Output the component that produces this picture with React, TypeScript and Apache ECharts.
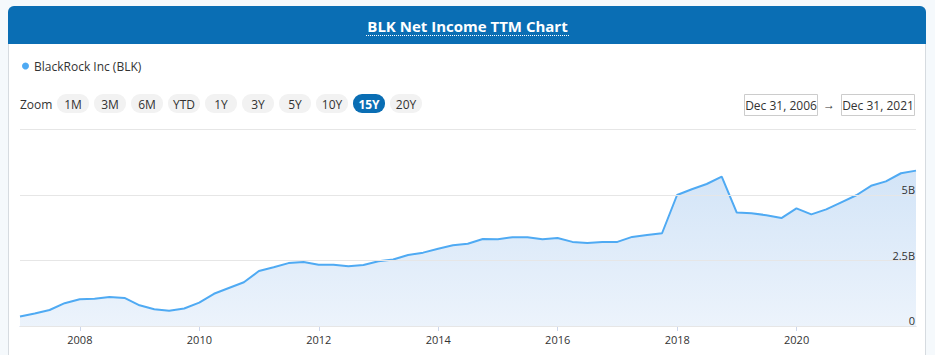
import React, { useEffect, useRef } from "react";
import * as echarts from "echarts";

// Quarter-end TTM net income of BlackRock, in billions USD, Dec 2006 .. Dec 2021
const startYear = 2006;
const netIncomeB: number[] = [
  0.36, 0.48, 0.61, 0.87, 1.02, 1.04, 1.11, 1.07, 0.79, 0.64, 0.58, 0.67,
  0.89, 1.23, 1.45, 1.67, 2.10, 2.24, 2.40, 2.44, 2.34, 2.34, 2.28, 2.33,
  2.47, 2.54, 2.71, 2.80, 2.95, 3.08, 3.14, 3.32, 3.31, 3.39, 3.39, 3.31,
  3.36, 3.21, 3.17, 3.21, 3.21, 3.40, 3.47, 3.54, 5.00, 5.22, 5.42, 5.70,
  4.33, 4.30, 4.23, 4.12, 4.49, 4.26, 4.45, 4.72, 4.99, 5.35, 5.52, 5.83,
  5.93,
];
const tickYears: number[] = [2008, 2010, 2012, 2014, 2016, 2018, 2020];
const zoomButtons: string[] = ["1M", "3M", "6M", "YTD", "1Y", "3Y", "5Y", "10Y", "15Y", "20Y"];
const selectedZoom = "15Y";
const fromLabel = "Dec 31, 2006";
const toLabel = "Dec 31, 2021";
const seriesName = "BlackRock Inc (BLK)";
const chartTitle = "BLK Net Income TTM Chart";

const quarterEnds: [number, number][] = [[2, 31], [5, 30], [8, 30], [11, 31]];
function quarterTime(i: number): number {
  // i = 0 -> Dec 31 of startYear
  const q = (i + 3) % 4;
  const y = startYear + Math.floor((i + 3) / 4);
  return Date.UTC(y, quarterEnds[q][0], quarterEnds[q][1]);
}

const FONT = "'Open Sans', 'Noto Sans', sans-serif";
const BLUE = "#0a6eb4";
const LINE = "#4faaf3";

export default function App() {
  const ref = useRef<HTMLDivElement>(null);
  useEffect(() => {
    if (!ref.current) return;
    const chart = echarts.init(ref.current, undefined, { renderer: "svg" });
    const data = netIncomeB.map((v, i) => [quarterTime(i), v]);
    const ticks = tickYears.map((y) => Date.UTC(y, 0, 1));

    const graphics: any[] = [
      {
        type: "rect",
        shape: { x: 8.5, y: 6.5, width: 917, height: 360, r: [6, 6, 0, 0] },
        style: { fill: "#ffffff", stroke: "#d6dbe0", lineWidth: 1 },
        z: -10,
      },
      {
        type: "rect",
        shape: { x: 8, y: 6, width: 918, height: 38, r: [6, 6, 0, 0] },
        style: { fill: BLUE },
        z: -9,
      },
      {
        type: "line",
        shape: { x1: 366, y1: 35.5, x2: 570, y2: 35.5 },
        style: { stroke: "#ffffff", lineWidth: 1, lineDash: [1, 1] },
      },
      {
        type: "text",
        x: 20,
        y: 104,
        style: { text: "Zoom", fill: "#333333", font: `12px ${FONT}`, textVerticalAlign: "middle" },
      },
      {
        type: "rect",
        shape: { x: 744.5, y: 94.5, width: 73, height: 21 },
        style: { fill: "#ffffff", stroke: "#cccccc", lineWidth: 1 },
      },
      {
        type: "text",
        x: 781,
        y: 105,
        style: { text: fromLabel, fill: "#333333", font: `12px ${FONT}`, textAlign: "center", textVerticalAlign: "middle" },
      },
      {
        type: "text",
        x: 829,
        y: 104,
        style: { text: "→", fill: "#333333", font: `bold 12px ${FONT}`, textAlign: "center", textVerticalAlign: "middle" },
      },
      {
        type: "rect",
        shape: { x: 841.5, y: 94.5, width: 73, height: 21 },
        style: { fill: "#ffffff", stroke: "#cccccc", lineWidth: 1 },
      },
      {
        type: "text",
        x: 878,
        y: 105,
        style: { text: toLabel, fill: "#333333", font: `12px ${FONT}`, textAlign: "center", textVerticalAlign: "middle" },
      },
    ];
    zoomButtons.forEach((b, i) => {
      const sel = b === selectedZoom;
      const x = 57 + 37 * i;
      graphics.push({
        type: "rect",
        shape: { x, y: 94, width: 32, height: 19, r: 9 },
        style: { fill: sel ? BLUE : "#f2f2f2" },
      });
      graphics.push({
        type: "text",
        x: x + 16,
        y: 104,
        style: {
          text: b,
          fill: sel ? "#ffffff" : "#333333",
          font: `${sel ? "bold " : ""}12px ${FONT}`,
          textAlign: "center",
          textVerticalAlign: "middle",
        },
      });
    });

    chart.setOption({
      animation: false,
      backgroundColor: "#f5f9fc",
      textStyle: { fontFamily: FONT },
      title: {
        text: chartTitle,
        left: "center",
        top: 13,
        textStyle: { color: "#ffffff", fontSize: 15, fontWeight: "bold", fontFamily: FONT },
      },
      legend: {
        left: 17,
        top: 55,
        icon: "circle",
        itemWidth: 7,
        itemHeight: 7,
        textStyle: { color: "#333333", fontSize: 12, fontFamily: FONT },
        data: [seriesName],
      },
      graphic: graphics,
      grid: { left: 20, right: 19, top: 129.5, bottom: 29 },
      xAxis: {
        type: "value",
        min: quarterTime(0),
        max: quarterTime(netIncomeB.length - 1),
        axisLine: { show: true, lineStyle: { color: "#ccd6eb", width: 1 } },
        axisTick: { show: true, length: 5, customValues: ticks, lineStyle: { color: "#ccd6eb" } },
        axisLabel: {
          customValues: ticks,
          formatter: (v: number) => String(new Date(v).getUTCFullYear()),
          color: "#333333",
          fontSize: 11,
          margin: 8,
          fontFamily: FONT,
        },
        splitLine: { show: false },
      },
      yAxis: {
        type: "value",
        position: "right",
        min: 0,
        max: 7.5,
        interval: 2.5,
        z: 10,
        axisLine: { show: false },
        axisTick: { show: false },
        axisLabel: {
          inside: true,
          margin: 1,
          showMaxLabel: false,
          verticalAlign: "bottom",
          color: "#333333",
          fontSize: 11,
          fontFamily: FONT,
          formatter: (v: number) => (v === 0 ? "0" : `${v}B`),
        },
        splitLine: { lineStyle: { color: "#e6e6e6", width: 1 } },
      },
      series: [
        {
          name: seriesName,
          type: "line",
          data,
          symbol: "none",
          z: 2,
          color: LINE,
          lineStyle: { color: LINE, width: 2 },
          areaStyle: {
            color: new echarts.graphic.LinearGradient(0, 0, 0, 1, [
              { offset: 0, color: "#c0d9f4" },
              { offset: 1, color: "#e4eefa" },
            ]),
          },
        },
      ],
    });
    return () => chart.dispose();
  }, []);
  return (
    <div
      ref={ref}
      style={{ position: "fixed", left: 0, top: 0, width: 935, height: 355 }}
    />
  );
}
